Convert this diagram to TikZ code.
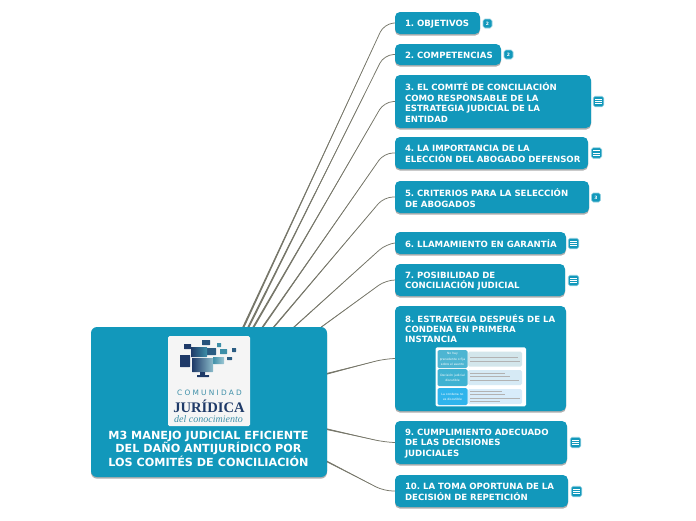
\documentclass[tikz,border=0pt]{standalone}
\usepackage{fontspec}
\setmainfont{DejaVu Sans}
\newfontfamily\logoserif{Liberation Serif}
\usetikzlibrary{shadows,backgrounds,calc}
\frenchspacing
\definecolor{teal1}{HTML}{1298BB}
\definecolor{conn}{HTML}{77776A}
\definecolor{navy1}{HTML}{1F3A68}
\definecolor{logoteal}{HTML}{3E8FA8}
\definecolor{la}{HTML}{4DB5D2}
\definecolor{lb}{HTML}{3FB2D2}
\definecolor{lc}{HTML}{2FB4EC}
\definecolor{ra}{HTML}{D3E6EB}
\definecolor{rb}{HTML}{D6EAF5}
\definecolor{rc}{HTML}{D8ECFA}
\tikzset{
  x=1pt,y=-1pt,
  topic/.style={draw=none,fill=teal1,rounded corners=5pt,inner sep=0pt,text=white,
    font=\fontsize{8.6}{10.4}\selectfont\bfseries\frenchspacing,align=left,
    drop shadow={shadow xshift=0pt,shadow yshift=-1.6pt,opacity=.45,fill=black!70}},
  link/.style={draw=conn,rounded corners=9pt,line cap=round,line width=.75pt},
  badge/.style={fill=teal1,draw=teal1!45,line width=.6pt,rounded corners=1.8pt,inner sep=0pt,
    text=white,font=\fontsize{4.5}{5}\selectfont\bfseries},
  lcell/.style={rounded corners=1.5pt,inner sep=0pt,text=white,align=center,
    font=\fontsize{3}{5.2}\selectfont},
  rcell/.style={rounded corners=1.5pt,inner sep=0pt},
  bar/.style={draw=black!30,line width=.5pt},
  sq/.style={rounded corners=.3pt,inner sep=0pt}
}
\newcommand{\tline}[1]{\raisebox{-1pt}[\height][\depth]{#1}}
\newcommand{\topicbox}[6]{% name, x1, y1, x2, y2, text
  \pgfmathsetmacro{\tw}{#4-#2}\pgfmathsetmacro{\th}{#5-#3}
  \pgfmathsetmacro{\tmx}{(#2+#4)/2}\pgfmathsetmacro{\tmy}{(#3+#5)/2}
  \node[topic,minimum width=\tw pt,minimum height=\th pt,text width=\tw pt-20pt] (#1) at (\tmx,\tmy) {#6};}
\newcommand{\numbadge}[4]{\node[badge,minimum size=9pt] (#1) at (#2,#3) {#4};}
\newcommand{\listbadge}[3]{\node[badge,minimum size=10.5pt] (#1) at (#2,#3) {};
  \foreach \dy in {-2.2,0,2.2}{\draw[white,line width=.8pt] (#2-3.2,#3+\dy) -- (#2+3.2,#3+\dy);}}
\newcommand{\logosq}[6]{\node[sq,fill=#5,minimum width=#3 pt-#1 pt,minimum height=#4 pt-#2 pt,#6] at ({(#1+#3)/2},{(#2+#4)/2}) {};}
% connector: start, bend, target node, half width of the taper at the root
\newcommand{\linkto}[4]{\draw[link] (#1) -- (#2) -- (#3.west);
  \fill[conn] ($(#1)+(-#4,0)$) -- ($(#1)+(#4,0)$) -- ($(#1)!.92!(#2)$) -- cycle;}
\newcommand{\linkside}[4]{\draw[link] (#1) -- (#2) -- (#3.west);
  \fill[conn] ($(#1)+(0,-#4)$) -- ($(#1)+(0,#4)$) -- ($(#1)!.9!(#2)$) -- cycle;}
\begin{document}
\begin{tikzpicture}
\useasboundingbox (0,0) rectangle (696,520);
% central topic
\node[topic,rounded corners=6pt,minimum width=236pt,minimum height=150pt,
  drop shadow={shadow xshift=0pt,shadow yshift=0pt,opacity=0}] (c) at (209,402) {};
% topics
\topicbox{t1}{395}{12}{480}{34}{\tline{1. OBJETIVOS}}
\topicbox{t2}{395}{44}{501}{65}{\tline{2. COMPETENCIAS}}
\topicbox{t3}{395}{75}{591}{128}{\tline{3. EL COMITÉ DE CONCILIACIÓN}\\\tline{COMO RESPONSABLE DE LA}\\\tline{ESTRATEGIA JUDICIAL DE LA}\\\tline{ENTIDAD}}
\topicbox{t4}{395}{137}{588}{169}{\tline{4. LA IMPORTANCIA DE LA}\\\tline{ELECCIÓN DEL ABOGADO DEFENSOR}}
\topicbox{t5}{395}{181}{589}{213}{\tline{5. CRITERIOS PARA LA SELECCIÓN}\\\tline{DE ABOGADOS}}
\topicbox{t6}{395}{232}{566}{254}{\tline{6. LLAMAMIENTO EN GARANTÍA}}
\topicbox{t7}{395}{264}{565}{296}{\tline{7. POSIBILIDAD DE}\\\tline{CONCILIACIÓN JUDICIAL}}
\topicbox{t8}{395}{306}{566}{411}{}
\node[inner sep=0pt,text=white,align=left,anchor=west,font=\fontsize{8.6}{10.4}\selectfont\bfseries\frenchspacing] (t8t) at (405,328.6) {8. ESTRATEGIA DESPUÉS DE LA\\CONDENA EN PRIMERA\\INSTANCIA};
\topicbox{t9}{395}{421}{567}{464}{\tline{9. CUMPLIMIENTO ADECUADO}\\\tline{DE LAS DECISIONES}\\\tline{JUDICIALES}}
\topicbox{t10}{395}{475}{568}{507}{\tline{10. LA TOMA OPORTUNA DE LA}\\\tline{DECISIÓN DE REPETICIÓN}}
% connectors, behind the nodes
\begin{pgfonlayer}{background}
\fill[white] (0,0) rectangle (696,520);
\coordinate (s1) at (243,328); \coordinate (k1) at (384,24);
\coordinate (s2) at (248,328); \coordinate (k2) at (384,55);
\coordinate (s3) at (253,328); \coordinate (k3) at (384,102);
\coordinate (s4) at (262,328); \coordinate (k4) at (384,153);
\coordinate (s5) at (273,328); \coordinate (k5) at (384,197);
\coordinate (s6) at (293,328); \coordinate (k6) at (386,244);
\coordinate (s7) at (320,328); \coordinate (k7) at (386,280);
\coordinate (s8) at (326,374); \coordinate (k8) at (384,359);
\coordinate (s9) at (326,429); \coordinate (k9) at (384,442);
\coordinate (s10) at (326,461); \coordinate (k10) at (384,491);
\linkto{s1}{k1}{t1}{1.1}
\linkto{s2}{k2}{t2}{1.1}
\linkto{s3}{k3}{t3}{1.1}
\linkto{s4}{k4}{t4}{1}
\linkto{s5}{k5}{t5}{.9}
\linkto{s6}{k6}{t6}{.7}
\linkto{s7}{k7}{t7}{.6}
\linkside{s8}{k8}{t8}{.8}
\linkside{s9}{k9}{t9}{.8}
\linkside{s10}{k10}{t10}{.8}
\end{pgfonlayer}
% badges
\numbadge{b1}{487.5}{23.5}{2}
\numbadge{b2}{508.5}{54.5}{2}
\listbadge{b3}{598.5}{101.5}
\listbadge{b4}{596.5}{153}
\numbadge{b5}{596}{197.5}{3}
\listbadge{b6}{573.5}{243.5}
\listbadge{b7}{573.5}{280.5}
\listbadge{b9}{575.5}{442.5}
\listbadge{b10}{576.5}{491.5}
% central logo
\node[fill=white!96!black,rounded corners=1.5pt,minimum width=82pt,minimum height=90pt,inner sep=0pt] (logo) at (209,381) {};
\logosq{180}{355}{190}{367}{navy1}{}
\logosq{184}{344}{191}{349}{navy1}{}
\logosq{202}{340}{210}{345}{navy1!70!logoteal}{}
\logosq{217}{343}{221}{347}{logoteal}{}
\logosq{232}{348}{236}{352}{navy1!60!logoteal}{}
\logosq{227}{357}{232}{360}{navy1!60!logoteal}{}
\logosq{220}{349}{227}{354}{logoteal}{}
\logosq{206}{348}{216}{355}{navy1!60!logoteal}{}
\node[sq,left color=navy1,right color=logoteal,minimum width=16pt,minimum height=10pt] at (199,352) {};
\node[sq,left color=logoteal,right color=logoteal!50,minimum width=11pt,minimum height=7pt] at (218.5,360.5) {};
\node[sq,left color=navy1,right color=logoteal!60,minimum width=21pt,minimum height=14pt] at (202.5,365) {};
\logosq{200}{372}{205}{375}{navy1}{}
\logosq{197}{375}{209}{377}{navy1}{}
\node[inner sep=0pt,text=logoteal,font=\fontsize{7.4}{8}\selectfont\addfontfeatures{LetterSpace=30}] (l1) at (209.5,393) {COMUNIDAD};
\node[inner sep=0pt,text=navy1,font=\logoserif\bfseries\fontsize{14.6}{16}\selectfont] (l2) at (209,406.5) {JURÍDICA};
\node[inner sep=0pt,text=logoteal,font=\logoserif\itshape\fontsize{10}{11}\selectfont] (l3) at (208.5,419.5) {del conocimiento};
\node[inner sep=0pt,text=white,align=center,font=\fontsize{11.2}{13.4}\selectfont\bfseries] (ct) at (208.5,448.7)
  {M3 MANEJO JUDICIAL EFICIENTE\\DEL DAÑO ANTIJURÍDICO POR\\LOS COMITÉS DE CONCILIACIÓN};
% thumbnail
\node[fill=white,rounded corners=1.5pt,minimum width=90.5pt,minimum height=59pt,inner sep=0pt] (th) at (480.8,376.8) {};
\node[lcell,fill=la,minimum width=30pt,minimum height=18pt] (a1) at (452.5,359) {No hay\\precedente o fija\\sobre el asunto};
\node[lcell,fill=lb,minimum width=30pt,minimum height=17pt] (a2) at (452.5,377.5) {Decisión judicial\\discutible};
\node[lcell,fill=lc,minimum width=30pt,minimum height=17pt] (a3) at (452.5,396.5) {La condena no\\es discutible};
\node[rcell,fill=ra,minimum width=54pt,minimum height=15pt] (r1) at (495,359) {};
\node[rcell,fill=rb,minimum width=54pt,minimum height=15pt] (r2) at (495,377.5) {};
\node[rcell,fill=rc,minimum width=54pt,minimum height=15pt] (r3) at (495,396.5) {};
\foreach \ya/\xb in {357/518,361/520, 373/505,376.5/510,380/519, 391/502,394.5/505,398/520,401/500}{
  \draw[bar] (470,\ya) -- (\xb,\ya);}
\end{tikzpicture}
\end{document}
